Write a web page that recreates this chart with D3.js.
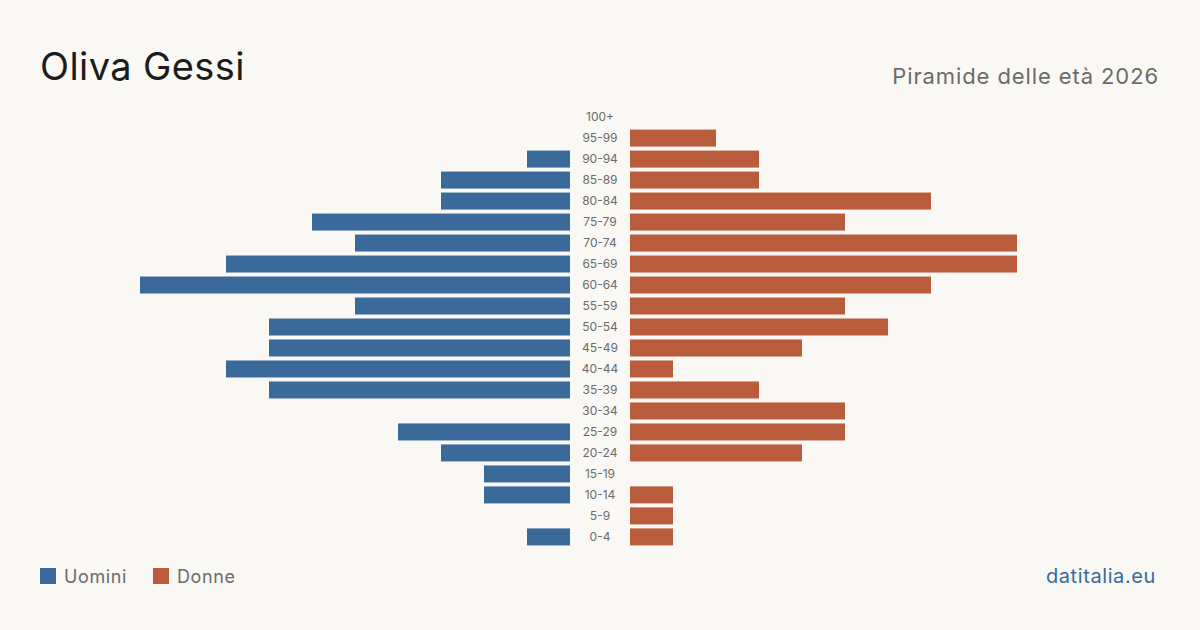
<!DOCTYPE html>
<meta charset="utf-8">
<title>Piramide delle età</title>
<style>
html, body { margin: 0; padding: 0; background: #f9f8f4; overflow: hidden; }
text { font-family: Inter, "Noto Sans", sans-serif; }
.age { font-size: 12px; fill: #6b6b6b; text-anchor: middle; }
</style>
<svg width="1200" height="630"></svg>
<script src="https://d3js.org/d3.v7.min.js"></script>
<script>
// age classes, top to bottom
var ages = ["100+", "95-99", "90-94", "85-89", "80-84", "75-79", "70-74", "65-69", "60-64", "55-59",
            "50-54", "45-49", "40-44", "35-39", "30-34", "25-29", "20-24", "15-19", "10-14", "5-9", "0-4"];
var men   = [0, 0, 1, 3, 3, 6, 5, 8, 10, 5, 7, 7, 8, 7, 0, 4, 3, 2, 2, 0, 1];
var women = [0, 2, 3, 3, 7, 5, 9, 9, 7, 5, 6, 4, 1, 3, 5, 5, 4, 0, 1, 1, 1];

var blue = "#3a6a9a", red = "#b95c3c";

var svg = d3.select("svg");
svg.append("rect").attr("width", 1200).attr("height", 630).attr("fill", "#f9f8f4");

var y = d3.scaleBand().domain(ages).range([106.5, 547.5]).paddingInner(0.19).paddingOuter(0.1);
var xl = d3.scaleLinear().domain([0, 10]).range([570, 140]);
var xr = d3.scaleLinear().domain([0, 10]).range([630, 1060]);

// men bars
svg.append("g").selectAll("rect")
  .data(ages.map(function(a, i) { return {age: a, v: men[i]}; }))
  .enter().append("rect")
    .attr("x", function(d) { return xl(d.v); })
    .attr("y", function(d) { return y(d.age); })
    .attr("width", function(d) { return xl(0) - xl(d.v); })
    .attr("height", y.bandwidth())
    .attr("fill", blue);

// women bars
svg.append("g").selectAll("rect")
  .data(ages.map(function(a, i) { return {age: a, v: women[i]}; }))
  .enter().append("rect")
    .attr("x", xr(0))
    .attr("y", function(d) { return y(d.age); })
    .attr("width", function(d) { return xr(d.v) - xr(0); })
    .attr("height", y.bandwidth())
    .attr("fill", red);

// age labels
svg.append("g").selectAll("text")
  .data(ages)
  .enter().append("text")
    .attr("class", "age")
    .attr("x", 600)
    .attr("y", function(d) { return y(d) + y.bandwidth() / 2; })
    .attr("dy", "0.35em")
    .text(function(d) { return d; });

// title + subtitle
svg.append("text").attr("x", 40).attr("y", 80)
  .style("font-size", "38px").style("letter-spacing", "0.4px").attr("fill", "#1c1c1c").text("Oliva Gessi");
svg.append("text").attr("x", 1159).attr("y", 84).attr("text-anchor", "end")
  .style("font-size", "22px").style("letter-spacing", "0.9px").attr("fill", "#6b6b6b").text("Piramide delle età 2026");

// legend
var legend = [{name: "Uomini", c: blue, x: 40}, {name: "Donne", c: red, x: 153}];
var lg = svg.append("g").selectAll("g").data(legend).enter().append("g");
lg.append("rect").attr("x", function(d) { return d.x; }).attr("y", 568)
  .attr("width", 16).attr("height", 16).attr("fill", function(d) { return d.c; });
lg.append("text").attr("x", function(d) { return d.x + 24; }).attr("y", 583)
  .style("font-size", "18px").style("letter-spacing", "0.6px").attr("fill", "#6b6b6b").text(function(d) { return d.name; });

svg.append("text").attr("x", 1156).attr("y", 583).attr("text-anchor", "end")
  .style("font-size", "20px").style("letter-spacing", "0.6px").attr("fill", blue).text("datitalia.eu");
</script>
